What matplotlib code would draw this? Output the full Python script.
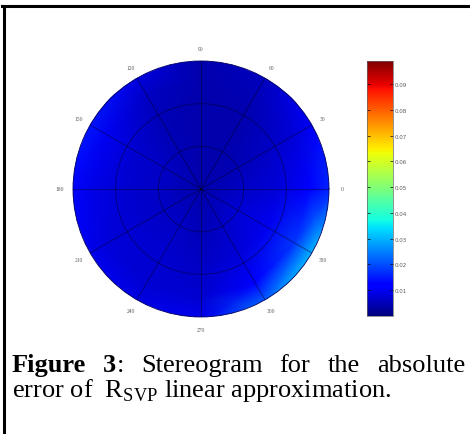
import numpy as np
import matplotlib
matplotlib.use("Agg")
import matplotlib.pyplot as plt
from matplotlib.lines import Line2D

plt.rcParams['mathtext.fontset'] = 'custom'
plt.rcParams['mathtext.rm'] = 'Liberation Serif'

# absolute error on the stereogram, sampled on rings (radius) x directions (deg)
angles_deg = [0, 30, 60, 90, 120, 150, 180, 210, 240, 270, 300, 330]
radii = [0.0, 0.3, 0.6, 0.85, 1.05]
err_r0 = [0.004] * 12
err_r1 = [0.006, 0.005, 0.004, 0.004, 0.005, 0.006, 0.006, 0.006, 0.006, 0.005, 0.006, 0.007]
err_r2 = [0.008, 0.006, 0.004, 0.004, 0.005, 0.007, 0.007, 0.007, 0.007, 0.006, 0.008, 0.010]
err_r3 = [0.011, 0.008, 0.005, 0.004, 0.006, 0.010, 0.009, 0.008, 0.007, 0.007, 0.012, 0.018]
err_r4 = [0.017, 0.012, 0.006, 0.004, 0.009, 0.015, 0.013, 0.010, 0.009, 0.010, 0.024, 0.034]
angle_labels = [str(a) for a in angles_deg]
cbar_ticks = [0.01, 0.02, 0.03, 0.04, 0.05, 0.06, 0.07, 0.08, 0.09]
cbar_max = 0.099

fig = plt.figure(figsize=(4.7, 4.35), dpi=100)

# frame lines of the scanned page
fig.add_artist(Line2D([0.004, 0.998], [0.983, 0.983], color='black', lw=2.2))
fig.add_artist(Line2D([0.008, 0.008], [0.0, 0.983], color='black', lw=2.2))

ax = fig.add_axes([0.1553, 0.269, 0.5447, 0.5885], projection='polar')
rings = np.array([err_r0, err_r1, err_r2, err_r3, err_r4])
rings = np.hstack([rings, rings[:, :1]])
theta = np.deg2rad(angles_deg + [360])
T, R = np.meshgrid(theta, radii)
mesh = ax.pcolormesh(T, R, rings, shading='gouraud', cmap='jet', vmin=0, vmax=cbar_max)
ax.set_ylim(0, 1)
ax.set_rticks([1/3, 2/3])
ax.set_yticklabels([])
ax.set_thetagrids(angles_deg, [''] * len(angles_deg))
ax.tick_params(axis='x', length=0)
ax.grid(True, color='#000020', alpha=0.4, lw=0.8)
ax.spines['polar'].set_color('#000060')
ax.spines['polar'].set_linewidth(0.6)
for a, lab in zip(angles_deg, angle_labels):
    ax.text(np.deg2rad(a), 1.1, lab, fontsize=4, color='0.35', ha='center', va='center',
            family='Liberation Serif')

cax = fig.add_axes([0.781, 0.2713, 0.0553, 0.586])
cb = fig.colorbar(mesh, cax=cax, ticks=cbar_ticks)
cb.ax.set_yticklabels(['%.2f' % t for t in cbar_ticks])
cax.tick_params(left=True, right=True, direction='in', length=2, width=0.5,
                labelsize=4, labelcolor='0.35', pad=1)
cb.outline.set_linewidth(0.5)
cb.outline.set_edgecolor('0.4')

# caption, first line justified
fs = 19
serif = 'Liberation Serif'
renderer = fig.canvas.get_renderer()
words = [[("Figure", 'bold')], [("3", 'bold'), (":", 'normal')], [("Stereogram", 'normal')],
         [("for", 'normal')], [("the", 'normal')], [("absolute", 'normal')]]
def text_w(s, w):
    t = fig.text(0, 0, s, fontsize=fs, family=serif, weight=w)
    wd = t.get_window_extent(renderer).width
    t.remove()
    return wd
x0, x1 = 12, 465
W = fig.bbox.width
H = fig.bbox.height
widths = [sum(text_w(s, w) for s, w in word) for word in words]
gap = (x1 - x0 - sum(widths)) / (len(words) - 1)
x = x0
for word, wd in zip(words, widths):
    xx = x
    for s, w in word:
        fig.text(xx / W, (H - 372) / H, s, fontsize=fs, family=serif, weight=w,
                 va='baseline', ha='left')
        xx += text_w(s, w)
    x += wd + gap
fig.text(12 / W, (H - 397) / H, r"error of  $\mathrm{R}_{\mathrm{SVP}}$ linear approximation.",
         fontsize=fs, family=serif, va='baseline', ha='left')

fig.savefig('out.png', dpi=100)
